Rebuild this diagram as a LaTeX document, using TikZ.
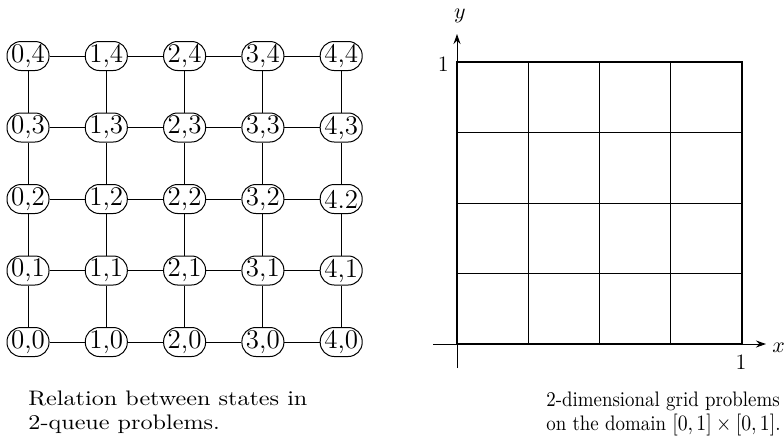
\documentclass[tikz,border=0pt]{standalone}
\usepackage{tikz}
\usetikzlibrary{arrows.meta}

\begin{document}
\begin{tikzpicture}[
  x=0.5pt, y=-0.5pt,
  qstate/.style={draw, rounded corners=7pt, inner sep=0pt, line width=0.5pt,
                 minimum width=21pt, minimum height=14.5pt,
                 font=\fontsize{13.5}{13.5}\selectfont},
  link/.style={line width=0.5pt},
  gridline/.style={line width=0.45pt},
  arr/.style={-{Stealth[length=5pt,width=3.5pt]}, line width=0.5pt},
  lbl/.style={font=\fontsize{11}{11}\selectfont, inner sep=0pt},
  capt/.style={align=left, anchor=north west, inner sep=0pt, transform shape,
               font=\fontsize{10.5}{12}\selectfont}]
\useasboundingbox (0,0) rectangle (784,447);

% states of the 2-queue problem
\foreach \i in {0,...,4}
  \foreach \j in {0,...,4}
    \node[qstate] (s\i\j) at ({28+78.3*\i},{56+71.5*(4-\j)})
      {\ifnum\i\j=42 4.2\else\i,\j\fi};
\foreach \a/\b in {0/1,1/2,2/3,3/4}
  \foreach \j in {0,...,4} {
    \draw[link] (s\a\j) -- (s\b\j);
    \draw[link] (s\j\a) -- (s\j\b);
  }

% grid on the unit square
\coordinate (sw) at (457,344);
\coordinate (ne) at (742,62);
\foreach \k in {1,2,3} {
  \draw[gridline] (457+71.25*\k,344) -- (457+71.25*\k,62);
  \draw[gridline] (457,344-70.5*\k) -- (742,344-70.5*\k);
}
\draw[line width=1.2pt] (sw) rectangle (ne);
\coordinate (xs) at (433,344);
\coordinate (xe) at (766,344);
\coordinate (ys) at (457,368);
\coordinate (ye) at (457,34);
\draw[arr] (xs) -- (xe);
\draw[arr] (ys) -- (ye);
\node[lbl] (ylab) at (460,16) {$y$};
\node[lbl, anchor=east] (yone) at (449,64) {1};
\node[lbl] (xone) at (741,362) {1};
\node[lbl, anchor=west] (xlab) at (772,348) {$x$};

% captions
\node[capt, xscale=1.15] (capl) at (28,391) {Relation between states in\\2-queue problems.};
\node[capt, xscale=0.9] (capr) at (546,392) {2-dimensional grid problems\\on the domain $[0,1]\times[0,1]$.};
\end{tikzpicture}
\end{document}
